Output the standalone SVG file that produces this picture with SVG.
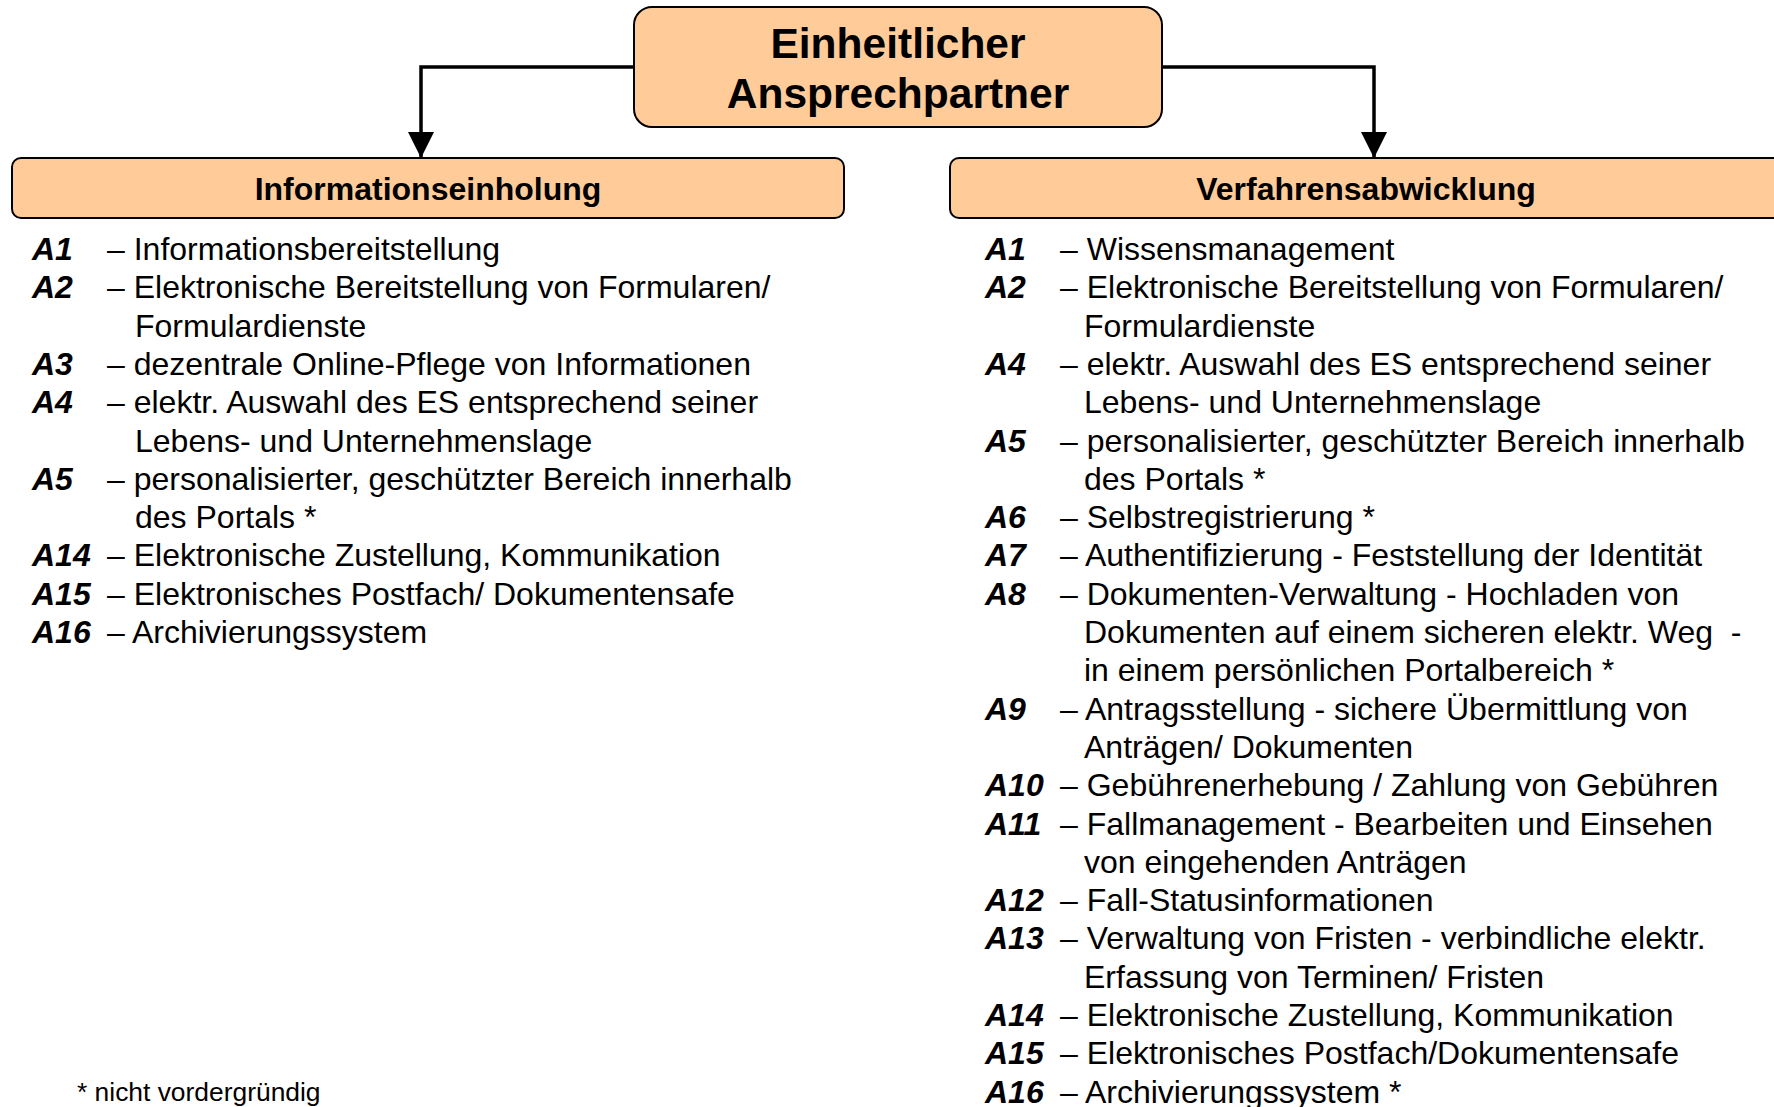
<svg xmlns="http://www.w3.org/2000/svg" width="1774" height="1107" viewBox="0 0 1774 1107">
<style>
.box{fill:#FFCC99;stroke:#000;stroke-width:2}
.conn{fill:none;stroke:#000;stroke-width:3.5}
.title{font-family:"Liberation Sans",Arial,sans-serif;font-weight:bold;font-size:42.5px;fill:#000;text-anchor:middle}
.head{font-family:"Liberation Sans",Arial,sans-serif;font-weight:bold;font-size:32px;fill:#000;text-anchor:middle}
.item{font-family:"Liberation Sans",Arial,sans-serif;font-size:32px;fill:#000}
.lab{font-weight:bold;font-style:italic}
.note{font-family:"Liberation Sans",Arial,sans-serif;font-size:26.4px;fill:#000}
</style>
<defs>
<marker id="arr" markerUnits="userSpaceOnUse" markerWidth="28" markerHeight="28" refX="26" refY="13" orient="auto">
<path d="M0,0 L26,13 L0,26 z" fill="#000"/>
</marker>
</defs>
<rect width="1774" height="1107" fill="#fff"/>
<g id="connectors">
<path class="conn" d="M634,67 H421 V158" marker-end="url(#arr)"/>
<path class="conn" d="M1162,67 H1374 V158" marker-end="url(#arr)"/>
</g>
<g id="node-einheitlicher-ansprechpartner">
<rect class="box" x="634" y="7" width="528" height="120" rx="18" ry="18"/>
<text class="title" x="898" y="58">Einheitlicher</text>
<text class="title" x="898" y="108">Ansprechpartner</text>
</g>
<g id="node-informationseinholung">
<rect class="box" x="12" y="158" width="832" height="60" rx="9" ry="9"/>
<text class="head" x="428" y="200">Informationseinholung</text>
</g>
<g id="node-verfahrensabwicklung">
<rect class="box" x="950" y="158" width="832" height="60" rx="9" ry="9"/>
<text class="head" x="1366" y="200">Verfahrensabwicklung</text>
</g>
<g id="list-informationseinholung" class="item">
<text x="32" y="260" class="lab">A1</text><text x="107" y="260">– Informationsbereitstellung</text>
<text x="32" y="298.3" class="lab">A2</text><text x="107" y="298.3">– Elektronische Bereitstellung von Formularen/</text>
<text x="135" y="336.6">Formulardienste</text>
<text x="32" y="374.9" class="lab">A3</text><text x="107" y="374.9">– dezentrale Online-Pflege von Informationen</text>
<text x="32" y="413.2" class="lab">A4</text><text x="107" y="413.2">– elektr. Auswahl des ES entsprechend seiner</text>
<text x="135" y="451.5">Lebens- und Unternehmenslage</text>
<text x="32" y="489.8" class="lab">A5</text><text x="107" y="489.8">– personalisierter, geschützter Bereich innerhalb</text>
<text x="135" y="528.1">des Portals *</text>
<text x="32" y="566.4" class="lab">A14</text><text x="107" y="566.4">– Elektronische Zustellung, Kommunikation</text>
<text x="32" y="604.7" class="lab">A15</text><text x="107" y="604.7">– Elektronisches Postfach/ Dokumentensafe</text>
<text x="32" y="643" class="lab">A16</text><text x="107" y="643">– Archivierungssystem</text>
</g>
<g id="list-verfahrensabwicklung" class="item">
<text x="985" y="260" class="lab">A1</text><text x="1060" y="260">– Wissensmanagement</text>
<text x="985" y="298.3" class="lab">A2</text><text x="1060" y="298.3">– Elektronische Bereitstellung von Formularen/</text>
<text x="1084" y="336.6">Formulardienste</text>
<text x="985" y="374.9" class="lab">A4</text><text x="1060" y="374.9">– elektr. Auswahl des ES entsprechend seiner</text>
<text x="1084" y="413.2">Lebens- und Unternehmenslage</text>
<text x="985" y="451.5" class="lab">A5</text><text x="1060" y="451.5">– personalisierter, geschützter Bereich innerhalb</text>
<text x="1084" y="489.8">des Portals *</text>
<text x="985" y="528.1" class="lab">A6</text><text x="1060" y="528.1">– Selbstregistrierung *</text>
<text x="985" y="566.4" class="lab">A7</text><text x="1060" y="566.4">– Authentifizierung - Feststellung der Identität</text>
<text x="985" y="604.7" class="lab">A8</text><text x="1060" y="604.7">– Dokumenten-Verwaltung - Hochladen von</text>
<text x="1084" y="643" xml:space="preserve">Dokumenten auf einem sicheren elektr. Weg  -</text>
<text x="1084" y="681.3">in einem persönlichen Portalbereich *</text>
<text x="985" y="719.6" class="lab">A9</text><text x="1060" y="719.6">– Antragsstellung - sichere Übermittlung von</text>
<text x="1084" y="757.9">Anträgen/ Dokumenten</text>
<text x="985" y="796.2" class="lab">A10</text><text x="1060" y="796.2">– Gebührenerhebung / Zahlung von Gebühren</text>
<text x="985" y="834.5" class="lab">A11</text><text x="1060" y="834.5">– Fallmanagement - Bearbeiten und Einsehen</text>
<text x="1084" y="872.8">von eingehenden Anträgen</text>
<text x="985" y="911.1" class="lab">A12</text><text x="1060" y="911.1">– Fall-Statusinformationen</text>
<text x="985" y="949.4" class="lab">A13</text><text x="1060" y="949.4">– Verwaltung von Fristen - verbindliche elektr.</text>
<text x="1084" y="987.7">Erfassung von Terminen/ Fristen</text>
<text x="985" y="1026" class="lab">A14</text><text x="1060" y="1026">– Elektronische Zustellung, Kommunikation</text>
<text x="985" y="1064.3" class="lab">A15</text><text x="1060" y="1064.3">– Elektronisches Postfach/Dokumentensafe</text>
<text x="985" y="1102.6" class="lab">A16</text><text x="1060" y="1102.6">– Archivierungssystem *</text>
</g>
<text class="note" x="77" y="1101">* nicht vordergründig</text>
</svg>
